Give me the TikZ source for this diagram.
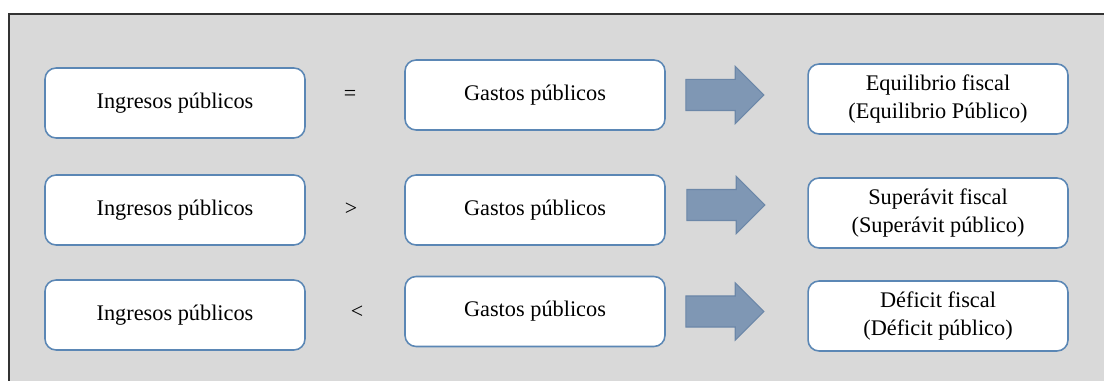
\documentclass[tikz,border=0pt]{standalone}
\usepackage{fontspec}
\setmainfont{Liberation Serif}
\usetikzlibrary{shapes.arrows}

\definecolor{panelgray}{HTML}{D9D9D9}
\definecolor{boxblue}{HTML}{5B87B5}
\definecolor{arrowfill}{HTML}{7F97B4}
\definecolor{arrowline}{HTML}{6C87A8}

\tikzset{
  infobox/.style={draw=boxblue, line width=0.9pt, fill=white, rounded corners=0.22cm,
    minimum width=5.2cm, minimum height=1.4cm, inner sep=0pt, align=center,
    font=\fontsize{12.7}{15.4}\selectfont},
  relsign/.style={inner sep=0pt, font=\fontsize{12.5}{14}\selectfont},
  blockarrow/.style={single arrow, draw=arrowline, line width=0.6pt, fill=arrowfill,
    minimum height=1.56cm, single arrow head extend=0.26cm,
    single arrow head indent=0pt, inner sep=0pt}
}
% empty body of the given thickness, so the shaft gets that width
\newcommand{\shaftbody}{\rule{0pt}{0.6cm}}

\begin{document}
\begin{tikzpicture}[x=0.02cm, y=-0.02cm]
  \useasboundingbox (0,0) rectangle (1104,381);
  % grey panel with its frame
  \fill[panelgray] (9,14) rectangle (1110,390);
  \draw[line width=1.3pt, black!80] (1110,14) -- (9,14) -- (9,390);

  % row 1: equality
  \node[infobox] (ing1) at (175,103) {Ingresos públicos};
  \node[relsign] (rel1) at (350,95) {=};
  \node[infobox] (gas1) at (535,95) {Gastos públicos};
  \node[blockarrow] (arr1) at (717,95) {\shaftbody};
  \node[infobox] (res1) at (938,99) {Equilibrio fiscal\\(Equilibrio Público)};

  % row 2: surplus
  \node[infobox] (ing2) at (175,210) {Ingresos públicos};
  \node[relsign] (rel2) at (351,209) {>};
  \node[infobox] (gas2) at (535,210) {Gastos públicos};
  \node[blockarrow] (arr2) at (718,205) {\shaftbody};
  \node[infobox] (res2) at (938,213) {Superávit fiscal\\(Superávit público)};

  % row 3: deficit
  \node[infobox] (ing3) at (175,315) {Ingresos públicos};
  \node[relsign] (rel3) at (357,312) {<};
  \node[infobox] (gas3) at (535,311.5) {Gastos públicos};
  \node[blockarrow] (arr3) at (717,311.5) {\shaftbody};
  \node[infobox] (res3) at (938,316) {Déficit fiscal\\(Déficit público)};
\end{tikzpicture}
\end{document}
